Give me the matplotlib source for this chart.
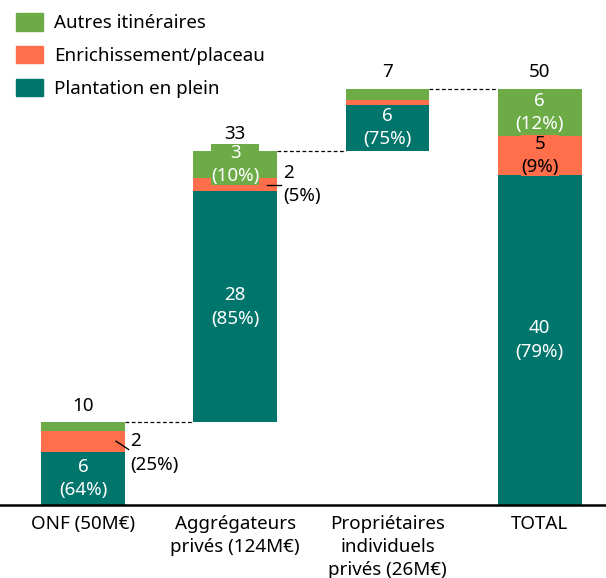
import matplotlib
matplotlib.use("Agg")
import matplotlib.pyplot as plt
import numpy as np
from matplotlib.patches import Patch

plt.rcParams['font.family'] = ['Noto Sans', 'DejaVu Sans']

categories = ["ONF (50M€)", "Aggrégateurs\nprivés (124M€)", "Propriétaires\nindividuels\nprivés (26M€)", "TOTAL"]
series_names = ["Plantation en plein", "Enrichissement/placeau", "Autres itinéraires"]
plantation = [6.4, 27.7, 5.5, 39.6]
enrichissement = [2.5, 1.6, 0.5, 4.6]
autres = [1.0, 3.3, 1.4, 5.7]
totals_labels = ["10", "33", "7", "50"]
plant_labels = ["6\n(64%)", "28\n(85%)", "6\n(75%)", "40\n(79%)"]
enr_labels = ["2\n(25%)", "2\n(5%)", "", "5\n(9%)"]
aut_labels = ["", "3\n(10%)", "", "6\n(12%)"]

colors = {"plant": "#00756C", "enr": "#FF6F4C", "aut": "#6DAB47"}

fig = plt.figure(figsize=(6.06, 5.78), dpi=100)
ax = fig.add_axes([0, 73/578, 1, 1 - 73/578])

x = np.arange(len(categories))
w = 0.55
plantation = np.array(plantation); enrichissement = np.array(enrichissement); autres = np.array(autres)
seg_tot = plantation + enrichissement + autres
bases = np.zeros(len(categories))
cum = 0
for i in range(len(categories) - 1):
    bases[i] = cum
    cum += seg_tot[i]
bases[-1] = 0

ax.bar(x, plantation, w, bottom=bases, color=colors["plant"], zorder=2)
ax.bar(x, enrichissement, w, bottom=bases + plantation, color=colors["enr"], zorder=2)
ax.bar(x, autres, w, bottom=bases + plantation + enrichissement, color=colors["aut"], zorder=2)

tops = bases + seg_tot
fs = 13.5
ls = 1.38
for i in range(len(categories) - 1):
    ax.plot([x[i] + w/2, x[i+1] - w/2], [tops[i], tops[i]], ls=(0, (3, 2)), color="black", lw=0.9, zorder=1)

for i in range(len(categories)):
    ax.text(x[i], tops[i] + 0.9, totals_labels[i], ha="center", va="bottom", fontsize=fs, color="black")

for i in range(len(categories)):
    ax.text(x[i], bases[i] + plantation[i]/2, plant_labels[i], ha="center", va="center",
            fontsize=fs, color="white", linespacing=ls, zorder=4)
    if enr_labels[i]:
        ymid = bases[i] + plantation[i] + enrichissement[i]/2
        if i == len(categories) - 1:
            ax.text(x[i], ymid, enr_labels[i], ha="center", va="center", fontsize=fs, color="black",
                    linespacing=ls, zorder=4,
                    bbox=dict(boxstyle="square,pad=0.0", fc=colors["enr"], ec="none"))
        else:
            if i == 0:
                ax.plot([x[i] + 0.217, x[i] + 0.30], [ymid, ymid - 1.0], color="black", lw=1, zorder=5)
                ax.text(x[i] + 0.31, ymid - 1.4, enr_labels[i], ha="left", va="center", fontsize=fs,
                        color="black", linespacing=ls)
            else:
                ax.plot([x[i] + 0.21, x[i] + 0.30], [ymid, ymid], color="black", lw=1, zorder=5)
                ax.text(x[i] + 0.315, ymid, enr_labels[i], ha="left", va="center", fontsize=fs,
                        color="black", linespacing=ls)
    if aut_labels[i]:
        ymid = bases[i] + plantation[i] + enrichissement[i] + autres[i]/2
        ax.text(x[i], ymid, aut_labels[i], ha="center", va="center", fontsize=fs, color="white",
                linespacing=ls, zorder=4,
                bbox=dict(boxstyle="square,pad=0.0", fc=colors["aut"], ec="none"))

ax.set_xlim(-0.545, 3.435)
ax.set_ylim(0, 60.55)
ax.set_xticks(x)
ax.set_xticklabels(categories, fontsize=fs, linespacing=ls)
ax.tick_params(axis="x", length=0, pad=7)
ax.set_yticks([])
for s in ["top", "left", "right"]:
    ax.spines[s].set_visible(False)
ax.spines["bottom"].set_linewidth(1.8)
ax.spines["bottom"].set_zorder(6)

handles = [Patch(color=colors["aut"], label=series_names[2]),
           Patch(color=colors["enr"], label=series_names[1]),
           Patch(color=colors["plant"], label=series_names[0])]
ax.legend(handles=handles, loc="upper left", bbox_to_anchor=(0.005, 1.0), frameon=False, fontsize=fs,
          handlelength=1.45, handleheight=1.05, labelspacing=0.74, handletextpad=0.55, borderaxespad=0.3)

fig.savefig("out.png", dpi=100)
